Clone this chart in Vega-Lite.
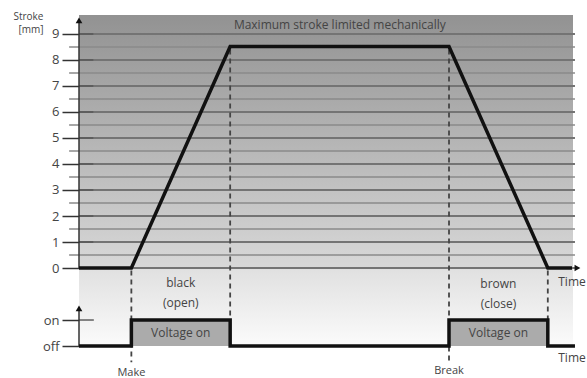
{
  "$schema": "https://vega.github.io/schema/vega-lite/v6.json",
  "width": 494,
  "height": 363,
  "autosize": "none",
  "padding": {"left": 79, "top": 15, "right": 14, "bottom": 0},
  "background": "white",
  "config": {
    "view": {"stroke": null},
    "font": "Open Sans",
    "axisX": {"disable": true},
    "axisY": {"labelOverlap": false, "labelFlush": false, "labelBound": false}
  },
  "encoding": {
    "x": {"field": "x", "type": "quantitative", "scale": {"domain": [0, 100], "nice": false, "zero": false}, "axis": null},
    "y": {"field": "y", "type": "quantitative", "title": ["Stroke", "[mm]"], "scale": {"domain": [-4.23, 9.73], "nice": false, "zero": false},
      "axis": {"values": [0, 1, 2, 3, 4, 5, 6, 7, 8, 9, -2, -3], "labelExpr": "datum.value == -2 ? 'on' : datum.value == -3 ? 'off' : datum.label", "labelOverlap": false, "domain": false, "grid": false, "tickSize": 17, "tickWidth": 1.5, "tickColor": "#333", "labelPadding": 3, "labelFontSize": 13, "labelColor": "#444", "labelFont": "Open Sans", "titleAngle": 0, "titleAlign": "right", "titleBaseline": "top", "titleX": -36, "titleY": -4, "titleFontSize": 10, "titleFontWeight": "normal", "titleColor": "#444", "titleLineHeight": 13, "titleFont": "Open Sans"}}
  },
  "layer": [
    {
      "data": {"values": [{"x": 0, "x2": 100, "y": 0, "y2": 9.73}]},
      "mark": {"type": "rect", "fill": {"gradient": "linear", "x1": 0, "y1": 0, "x2": 0, "y2": 1, "stops": [{"offset": 0, "color": "#929292"}, {"offset": 1, "color": "#d8d8d8"}]}},
      "encoding": {"x2": {"field": "x2"}, "y2": {"field": "y2"}}
    },
    {
      "data": {"values": [{"x": 0, "x2": 100, "y": -3, "y2": 0}]},
      "mark": {"type": "rect", "fill": {"gradient": "linear", "x1": 0, "y1": 0, "x2": 0, "y2": 1, "stops": [{"offset": 0, "color": "#e0e0e0"}, {"offset": 1, "color": "#fbfbfb"}]}},
      "encoding": {"x2": {"field": "x2"}, "y2": {"field": "y2"}}
    },
    {
      "data": {"values": [
        {"y": 0, "kind": "major", "x": 0, "x2": 100.4},
        {"y": 1, "kind": "major", "x": 0, "x2": 100.4},
        {"y": 2, "kind": "major", "x": 0, "x2": 100.4},
        {"y": 3, "kind": "major", "x": 0, "x2": 100.4},
        {"y": 4, "kind": "major", "x": 0, "x2": 100.4},
        {"y": 5, "kind": "major", "x": 0, "x2": 100.4},
        {"y": 6, "kind": "major", "x": 0, "x2": 100.4},
        {"y": 7, "kind": "major", "x": 0, "x2": 100.4},
        {"y": 8, "kind": "major", "x": 0, "x2": 100.4},
        {"y": 9, "kind": "major", "x": 0, "x2": 100.4},
        {"y": 0.5, "kind": "minor", "x": -2, "x2": 100.4},
        {"y": 1.5, "kind": "minor", "x": -2, "x2": 100.4},
        {"y": 2.5, "kind": "minor", "x": -2, "x2": 100.4},
        {"y": 3.5, "kind": "minor", "x": -2, "x2": 100.4},
        {"y": 4.5, "kind": "minor", "x": -2, "x2": 100.4},
        {"y": 5.5, "kind": "minor", "x": -2, "x2": 100.4},
        {"y": 6.5, "kind": "minor", "x": -2, "x2": 100.4},
        {"y": 7.5, "kind": "minor", "x": -2, "x2": 100.4},
        {"y": 8.5, "kind": "minor", "x": -2, "x2": 100.4},
        {"y": 0, "kind": "tick", "x": 0, "x2": 2.9},
        {"y": 1, "kind": "tick", "x": 0, "x2": 2.9},
        {"y": 2, "kind": "tick", "x": 0, "x2": 2.9},
        {"y": 3, "kind": "tick", "x": 0, "x2": 2.9},
        {"y": 4, "kind": "tick", "x": 0, "x2": 2.9},
        {"y": 5, "kind": "tick", "x": 0, "x2": 2.9},
        {"y": 6, "kind": "tick", "x": 0, "x2": 2.9},
        {"y": 7, "kind": "tick", "x": 0, "x2": 2.9},
        {"y": 8, "kind": "tick", "x": 0, "x2": 2.9},
        {"y": 9, "kind": "tick", "x": 0, "x2": 2.9},
        {"y": -2, "kind": "tick", "x": 0, "x2": 3.0}
      ]},
      "mark": {"type": "rule"},
      "encoding": {
        "x2": {"field": "x2"},
        "color": {"field": "kind", "type": "nominal", "scale": {"domain": ["major", "minor", "tick"], "range": ["#747474", "#8a8a8a", "#555555"]}, "legend": null},
        "strokeWidth": {"field": "kind", "type": "nominal", "scale": {"domain": ["major", "minor", "tick"], "range": [1.8, 1.4, 1.6]}, "legend": null}
      }
    },
    {
      "data": {"values": [
        {"x": 0, "y": 0, "y2": 9.5},
        {"x": 0, "y": -3, "y2": -1.5}
      ]},
      "mark": {"type": "rule", "color": "#333", "strokeWidth": 1.5},
      "encoding": {"y2": {"field": "y2"}}
    },
    {
      "data": {"values": [
        {"x": 10.6, "y": -0.1, "y2": -3.62},
        {"x": 30.6, "y": 8.4, "y2": -2},
        {"x": 74.9, "y": 8.4, "y2": -3.62},
        {"x": 94.9, "y": -0.1, "y2": -2}
      ]},
      "mark": {"type": "rule", "color": "#444", "strokeWidth": 1.8, "strokeDash": [5, 4]},
      "encoding": {"y2": {"field": "y2"}}
    },
    {
      "data": {"values": [
        {"x": 10.6, "x2": 30.6, "y": -3, "y2": -2},
        {"x": 74.9, "x2": 94.9, "y": -3, "y2": -2}
      ]},
      "mark": {"type": "rect", "fill": "#ababab"},
      "encoding": {"x2": {"field": "x2"}, "y2": {"field": "y2"}}
    },
    {
      "data": {"values": [
        {"series": "stroke", "i": 1, "x": 0, "y": 0},
        {"series": "stroke", "i": 2, "x": 10.6, "y": 0},
        {"series": "stroke", "i": 3, "x": 30.6, "y": 8.52},
        {"series": "stroke", "i": 4, "x": 74.9, "y": 8.52},
        {"series": "stroke", "i": 5, "x": 94.9, "y": 0},
        {"series": "stroke", "i": 6, "x": 99.8, "y": 0},
        {"series": "voltage", "i": 1, "x": 0, "y": -3},
        {"series": "voltage", "i": 2, "x": 10.6, "y": -3},
        {"series": "voltage", "i": 3, "x": 10.6, "y": -2},
        {"series": "voltage", "i": 4, "x": 30.6, "y": -2},
        {"series": "voltage", "i": 5, "x": 30.6, "y": -3},
        {"series": "voltage", "i": 6, "x": 74.9, "y": -3},
        {"series": "voltage", "i": 7, "x": 74.9, "y": -2},
        {"series": "voltage", "i": 8, "x": 94.9, "y": -2},
        {"series": "voltage", "i": 9, "x": 94.9, "y": -3},
        {"series": "voltage", "i": 10, "x": 100.4, "y": -3}
      ]},
      "mark": {"type": "line", "color": "#111", "strokeWidth": 3.5, "strokeJoin": "miter", "strokeCap": "butt"},
      "encoding": {
        "detail": {"field": "series"},
        "order": {"field": "i"}
      }
    },
    {
      "data": {"values": [
        {"x": 0, "y": 9.52, "shape": "triangle-up"},
        {"x": 0, "y": -1.55, "shape": "triangle-up"},
        {"x": 100.9, "y": 0, "shape": "triangle-right"}
      ]},
      "mark": {"type": "point", "filled": true, "color": "#111", "size": 45, "opacity": 1},
      "encoding": {
        "shape": {"field": "shape", "type": "nominal", "scale": null, "legend": null}
      }
    },
    {
      "data": {"values": [
        {"x": 52.8, "y": 9.35, "t": "Maximum stroke limited mechanically", "s": 12},
        {"x": 20.6, "y": -0.58, "t": "black", "s": 12},
        {"x": 20.6, "y": -1.35, "t": "(open)", "s": 12},
        {"x": 84.9, "y": -0.62, "t": "brown", "s": 12},
        {"x": 84.9, "y": -1.4, "t": "(close)", "s": 12},
        {"x": 20.6, "y": -2.5, "t": "Voltage on", "s": 12},
        {"x": 84.9, "y": -2.5, "t": "Voltage on", "s": 12},
        {"x": 10.6, "y": -4.02, "t": "Make", "s": 11},
        {"x": 74.9, "y": -3.98, "t": "Break", "s": 11},
        {"x": 99.8, "y": -0.55, "t": "Time", "s": 12},
        {"x": 99.8, "y": -3.46, "t": "Time", "s": 12}
      ]},
      "mark": {"type": "text", "color": "#444", "baseline": "middle", "align": "center", "font": "Open Sans"},
      "encoding": {
        "text": {"field": "t"},
        "size": {"field": "s", "type": "quantitative", "scale": null}
      }
    }
  ]
}
